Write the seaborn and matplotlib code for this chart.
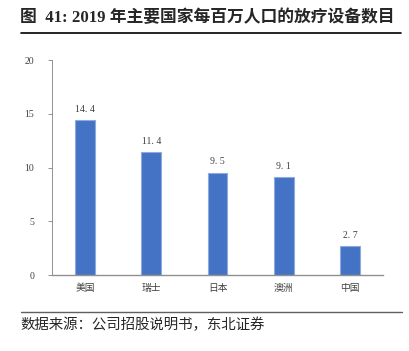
import matplotlib
matplotlib.use('Agg')
import matplotlib.pyplot as plt
import seaborn as sns
import pandas as pd

countries = ['美国', '瑞士', '日本', '澳洲', '中国']
devices_per_million = [14.4, 11.4, 9.5, 9.1, 2.7]
y_ticks = [0, 5, 10, 15, 20]

title_text = '图  41: 2019 年主要国家每百万人口的放疗设备数目'
source_text = '数据来源：公司招股说明书，东北证券'

sns.set_theme(style='white')
plt.rcParams['font.family'] = ['Liberation Serif', 'Noto Sans CJK SC', 'DejaVu Sans']

df = pd.DataFrame({'country': countries, 'value': devices_per_million})

fig = plt.figure(figsize=(4.10, 3.51), dpi=100)
ax = fig.add_axes([0.127, 0.2165, 0.807, 0.6125])

sns.barplot(data=df, x='country', y='value', color='#4472C4', width=0.3,
            saturation=1, edgecolor='#8FAADC', linewidth=0.8, ax=ax)

for i, v in enumerate(devices_per_million):
    ax.text(i, v + 0.6, f'{v:.1f}'.replace('.', '. '), ha='center', va='bottom',
            fontsize=7, color='#404040')

ax.set_ylim(0, 20)
ax.set_yticks(y_ticks)
ax.set_yticklabels([str(t) for t in y_ticks], fontsize=7, color='#404040')
ax.set_xlabel('')
ax.set_ylabel('')
ax.tick_params(axis='x', labelsize=7, colors='#404040', length=0, pad=6)
ax.tick_params(axis='y', left=True, length=3, width=0.6, color='#808080', pad=10)
for lbl in ax.get_xticklabels():
    lbl.set_fontfamily(['Noto Sans CJK SC'])
for s in ['top', 'right']:
    ax.spines[s].set_visible(False)
ax.spines['left'].set_color('#808080')
ax.spines['left'].set_linewidth(0.6)
ax.spines['bottom'].set_color('#909090')
ax.spines['bottom'].set_linewidth(1.0)

fig.text(0.05, 0.948, title_text, fontsize=12.1, fontweight='bold', va='center',
         ha='left', family=['Liberation Serif', 'Noto Sans CJK SC'])
fig.add_artist(plt.Line2D([0.05, 0.978], [0.906, 0.906], color='black', linewidth=1.2))
fig.add_artist(plt.Line2D([0.05, 0.98], [0.111, 0.111], color='#606060', linewidth=1.0))
fig.text(0.05, 0.073, source_text, fontsize=10.4, va='center', ha='left',
         family=['Noto Sans CJK SC'])

fig.savefig('out.png', dpi=100)
